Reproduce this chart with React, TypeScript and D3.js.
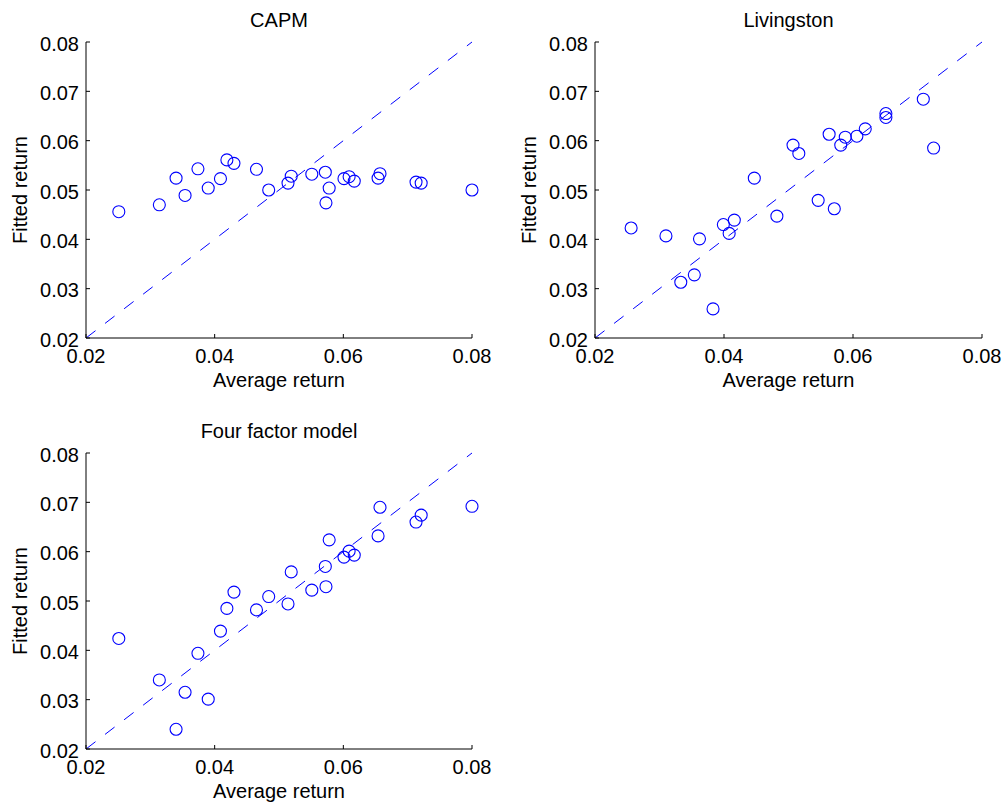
import React from 'react';
import * as d3 from 'd3';

// average return of each portfolio (x axis), shared by CAPM and four factor panels
const avgReturn = [0.0251, 0.0314, 0.0340, 0.0354, 0.0374, 0.0390, 0.0409, 0.0419, 0.0430, 0.0465, 0.0484, 0.0514, 0.0519, 0.0551, 0.0572, 0.0573, 0.0578, 0.0601, 0.0609, 0.0617, 0.0654, 0.0657, 0.0713, 0.0721, 0.0800];
const capmFitted = [0.0456, 0.0470, 0.0524, 0.0489, 0.0543, 0.0504, 0.0523, 0.0561, 0.0554, 0.0542, 0.0500, 0.0514, 0.0528, 0.0532, 0.0536, 0.0474, 0.0504, 0.0523, 0.0527, 0.0518, 0.0524, 0.0533, 0.0516, 0.0514, 0.0500];
const fourFactorFitted = [0.0424, 0.0340, 0.0240, 0.0315, 0.0394, 0.0301, 0.0439, 0.0485, 0.0518, 0.0482, 0.0509, 0.0494, 0.0559, 0.0522, 0.0570, 0.0529, 0.0624, 0.0589, 0.0601, 0.0593, 0.0632, 0.0690, 0.0660, 0.0674, 0.0692];

// Livingston panel has its own sample
const livAvgReturn = [0.0256, 0.0310, 0.0333, 0.0354, 0.0362, 0.0383, 0.0399, 0.0408, 0.0416, 0.0447, 0.0482, 0.0507, 0.0516, 0.0546, 0.0563, 0.0571, 0.0581, 0.0588, 0.0606, 0.0619, 0.0651, 0.0651, 0.0709, 0.0725];
const livFitted = [0.0423, 0.0407, 0.0313, 0.0328, 0.0401, 0.0259, 0.0430, 0.0412, 0.0439, 0.0524, 0.0447, 0.0591, 0.0574, 0.0479, 0.0613, 0.0462, 0.0591, 0.0607, 0.0609, 0.0624, 0.0655, 0.0647, 0.0684, 0.0585];

const axisTicks = [0.02, 0.03, 0.04, 0.05, 0.06, 0.07, 0.08];
const xTicks = [0.02, 0.04, 0.06, 0.08];
const domain: [number, number] = [0.02, 0.08];

const FONT = '"Liberation Sans", Arial, Helvetica, sans-serif';
const FS = 20;

type PanelProps = {
  title: string;
  xs: number[];
  ys: number[];
  left: number;
  right: number;
  top: number;
  bottom: number;
};

const Panel = ({ title, xs, ys, left, right, top, bottom }: PanelProps) => {
  const x = d3.scaleLinear().domain(domain).range([left, right]);
  const y = d3.scaleLinear().domain(domain).range([bottom, top]);
  const fmt = d3.format('.2f');

  return (
    <g fontFamily={FONT} fontSize={FS} fill="#000">
      {/* 45 degree line */}
      <line
        x1={x(domain[0])}
        y1={y(domain[0])}
        x2={x(domain[1])}
        y2={y(domain[1])}
        stroke="#0000ff"
        strokeWidth={1}
        strokeDasharray="12 12"
      />
      {xs.map((d, i) => (
        <circle key={i} cx={x(d)} cy={y(ys[i])} r={6} fill="none" stroke="#0000ff" strokeWidth={1.1} />
      ))}

      {/* axes: only left and bottom, ticks pointing inward */}
      <line x1={left} y1={top} x2={left} y2={bottom} stroke="#000" />
      <line x1={left} y1={bottom} x2={right} y2={bottom} stroke="#000" />
      {axisTicks.map((t) => (
        <g key={'y' + t}>
          <line x1={left} x2={left + 4} y1={y(t)} y2={y(t)} stroke="#000" />
          <text x={left - 7} y={y(t) + 8.5} textAnchor="end">{fmt(t)}</text>
        </g>
      ))}
      {xTicks.map((t) => (
        <g key={'x' + t}>
          <line x1={x(t)} x2={x(t)} y1={bottom} y2={bottom - 4} stroke="#000" />
          <text x={x(t)} y={bottom + 25} textAnchor="middle">{fmt(t)}</text>
        </g>
      ))}

      <text x={(left + right) / 2} y={top - 15} textAnchor="middle">{title}</text>
      <text x={(left + right) / 2} y={bottom + 49} textAnchor="middle">Average return</text>
      <text
        transform={`translate(${left - 59},${(top + bottom) / 2}) rotate(-90)`}
        textAnchor="middle"
      >
        Fitted return
      </text>
    </g>
  );
};

export default function App() {
  return (
    <svg
      width={1006}
      height={806}
      style={{ position: 'absolute', left: 0, top: 0, background: '#fff' }}
    >
      <rect width={1006} height={806} fill="#fff" />
      <Panel title="CAPM" xs={avgReturn} ys={capmFitted} left={86} right={472} top={42} bottom={338} />
      <Panel title="Livingston" xs={livAvgReturn} ys={livFitted} left={595} right={982} top={42} bottom={338} />
      <Panel title="Four factor model" xs={avgReturn} ys={fourFactorFitted} left={86} right={472} top={453} bottom={749} />
    </svg>
  );
}
